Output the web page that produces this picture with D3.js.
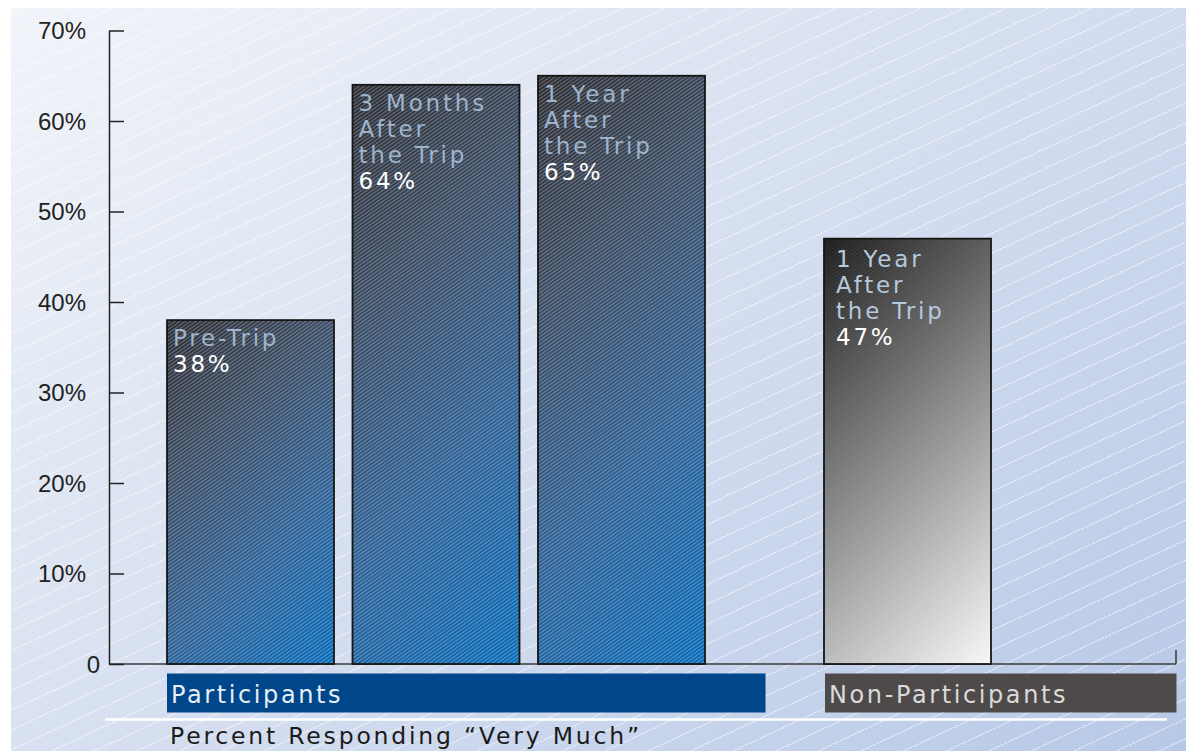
<!DOCTYPE html>
<html>
<head>
<meta charset="utf-8">
<script src="https://cdn.jsdelivr.net/npm/d3@7"></script>
<style>
  html, body { margin: 0; padding: 0; background: #ffffff; }
  svg { display: block; }
</style>
</head>
<body>
<svg id="chart" width="1186" height="751"></svg>
<script>
// ---------------- DATA ----------------
const categories = [
  ["Pre-Trip"],
  ["3 Months", "After", "the Trip"],
  ["1 Year", "After", "the Trip"],
  ["1 Year", "After", "the Trip"]
];
const groupOfBar = ["Participants", "Participants", "Participants", "Non-Participants"];
const values = [38, 64, 65, 47];
const groupNames = ["Participants", "Non-Participants"];
const yTicks = [0, 10, 20, 30, 40, 50, 60, 70];
const yTickLabels = ["0", "10%", "20%", "30%", "40%", "50%", "60%", "70%"];
const axisTitle = "Percent Responding \u201CVery Much\u201D";

// ---------------- LAYOUT ----------------
const W = 1186, H = 751;
const axisX = 109, baseY = 664, topY = 30.5;
const rightX = 1176;
const barStep = 185.5, barGap = 18.5;
const groupStart = { "Participants": 167, "Non-Participants": 824 };
const groupBoxEnd = { "Participants": 765.5, "Non-Participants": 1176.5 };
const labelFont = "'DejaVu Sans', Verdana, sans-serif";

const svg = d3.select("#chart");
const defs = svg.append("defs");

// background gradient
const bg = defs.append("linearGradient").attr("id", "bgGrad")
  .attr("gradientUnits", "userSpaceOnUse")
  .attr("x1", 11).attr("y1", 8).attr("x2", 900).attr("y2", 1100);
bg.append("stop").attr("offset", 0).attr("stop-color", "#f1f4f9");
bg.append("stop").attr("offset", 0.5).attr("stop-color", "#d3ddef");
bg.append("stop").attr("offset", 1).attr("stop-color", "#b3c5e5");

// background stripes
const stripe = defs.append("pattern").attr("id", "bgStripe")
  .attr("patternUnits", "userSpaceOnUse")
  .attr("width", 12).attr("height", 18)
  .attr("patternTransform", "rotate(-25)");
stripe.append("line").attr("x1", 0).attr("x2", 12).attr("y1", 0.5).attr("y2", 0.5)
  .attr("stroke", "#ffffff").attr("stroke-width", 1).attr("stroke-opacity", 0.7)
  .attr("stroke-dasharray", "3,1");

// bar hatch (carbon-like)
const hatch = defs.append("pattern").attr("id", "barHatch")
  .attr("patternUnits", "userSpaceOnUse")
  .attr("width", 6).attr("height", 3)
  .attr("patternTransform", "rotate(-35)");
hatch.append("rect").attr("x", 0).attr("y", 0).attr("width", 6).attr("height", 1)
  .attr("fill", "#ffffff").attr("fill-opacity", 0.28);
hatch.append("rect").attr("x", 0).attr("y", 1.5).attr("width", 6).attr("height", 1)
  .attr("fill", "#000000").attr("fill-opacity", 0.12);

const hatchLight = defs.append("pattern").attr("id", "barHatchLight")
  .attr("patternUnits", "userSpaceOnUse")
  .attr("width", 6).attr("height", 3)
  .attr("patternTransform", "rotate(-35)");
hatchLight.append("rect").attr("x", 0).attr("y", 0).attr("width", 6).attr("height", 1)
  .attr("fill", "#ffffff").attr("fill-opacity", 0.07);

svg.append("rect").attr("x", 11).attr("y", 8).attr("width", W - 11).attr("height", H - 8)
  .attr("fill", "url(#bgGrad)");
svg.append("rect").attr("x", 11).attr("y", 8).attr("width", W - 11).attr("height", H - 8)
  .attr("fill", "url(#bgStripe)");

// ---------------- SCALES ----------------
const y = d3.scaleLinear().domain([0, 70]).range([baseY, topY]);

const xByGroup = {};
groupNames.forEach(g => {
  const ids = d3.range(values.length).filter(i => groupOfBar[i] === g);
  const start = groupStart[g];
  xByGroup[g] = d3.scaleBand().domain(ids)
    .range([start, start + ids.length * barStep])
    .paddingInner(barGap / barStep).paddingOuter(barGap / barStep / 2)
    .align(0);
});
const xPos = i => xByGroup[groupOfBar[i]](i);
const bw = i => xByGroup[groupOfBar[i]].bandwidth();

const colorStops = {
  "Participants": [["0", "#303137"], ["0.3", "#3f5068"], ["0.65", "#32679e"], ["1", "#0a71c2"]],
  "Non-Participants": [["0", "#1c1c1c"], ["0.5", "#8c8c8c"], ["1", "#f7f7f7"]]
};

// per-bar diagonal gradients
values.forEach((v, i) => {
  const x0 = xPos(i), w = bw(i), y0 = y(v), h = baseY - y0;
  const s = (w + h) / 2;
  const g = defs.append("linearGradient").attr("id", "barGrad" + i)
    .attr("gradientUnits", "userSpaceOnUse")
    .attr("x1", x0).attr("y1", y0).attr("x2", x0 + s).attr("y2", y0 + s);
  colorStops[groupOfBar[i]].forEach(([o, c]) => g.append("stop").attr("offset", o).attr("stop-color", c));
});

// ---------------- BASELINE ----------------
svg.append("line").attr("x1", axisX).attr("x2", rightX).attr("y1", baseY).attr("y2", baseY)
  .attr("stroke", "#3a3a3a").attr("stroke-width", 1.5);
svg.append("line").attr("x1", rightX).attr("x2", rightX).attr("y1", baseY - 14).attr("y2", baseY)
  .attr("stroke", "#3a3a3a").attr("stroke-width", 1.5);

// ---------------- BARS ----------------
const bars = svg.append("g").selectAll("g.bar").data(values).join("g").attr("class", "bar");
bars.append("rect")
  .attr("x", (d, i) => xPos(i)).attr("y", d => y(d))
  .attr("width", (d, i) => bw(i)).attr("height", d => baseY - y(d))
  .attr("fill", (d, i) => `url(#barGrad${i})`);
bars.append("rect")
  .attr("x", (d, i) => xPos(i)).attr("y", d => y(d))
  .attr("width", (d, i) => bw(i)).attr("height", d => baseY - y(d))
  .attr("fill", (d, i) => groupOfBar[i] === "Participants" ? "url(#barHatch)" : "url(#barHatchLight)")
  .attr("stroke", "#161616").attr("stroke-width", 1.8);

// bar labels
const labelStyle = {
  "Participants": { dx: 6, dy: 26, cat: "#9db4cc" },
  "Non-Participants": { dx: 12, dy: 28, cat: "#b6c8dc" }
};
bars.each(function (d, i) {
  const st = labelStyle[groupOfBar[i]];
  const t = d3.select(this).append("text")
    .attr("font-family", labelFont).attr("font-size", 23)
    .attr("letter-spacing", 2.8);
  const lines = categories[i].concat([d + "%"]);
  lines.forEach((ln, k) => {
    t.append("tspan")
      .attr("x", xPos(i) + st.dx)
      .attr("y", y(d) + st.dy + k * 26)
      .attr("fill", k === lines.length - 1 ? "#ffffff" : st.cat)
      .text(ln);
  });
});

// ---------------- Y AXIS ----------------
const yAxis = d3.axisLeft(y).tickValues(yTicks)
  .tickFormat((d, i) => yTickLabels[i])
  .tickSize(-15).tickSizeOuter(0).tickPadding(23);
const ga = svg.append("g").attr("transform", `translate(${axisX},0)`).call(yAxis);
ga.select(".domain").attr("stroke", "#222").attr("stroke-width", 1.5);
ga.selectAll(".tick line").attr("stroke", "#222").attr("stroke-width", 1.5);
ga.selectAll(".tick text")
  .attr("font-family", "'Liberation Sans', Arial, sans-serif")
  .attr("font-size", 24).attr("fill", "#222")
  .attr("dy", "0.35em")
  .attr("x", d => d === 0 ? -9 : -23);

// ---------------- GROUP LABEL BOXES ----------------
const groupFill = { "Participants": "#00468a", "Non-Participants": "#4e4a49" };
const groupText = { "Participants": "#e6eef6", "Non-Participants": "#dadada" };
groupNames.forEach(g => {
  const x0 = groupStart[g] + (g === "Non-Participants" ? 1 : 0);
  svg.append("rect").attr("x", x0).attr("y", 673.5)
    .attr("width", groupBoxEnd[g] - x0).attr("height", 39)
    .attr("fill", groupFill[g]);
  svg.append("text").attr("x", x0 + 4).attr("y", 703)
    .attr("font-family", labelFont).attr("font-size", 24)
    .attr("letter-spacing", 2.6)
    .attr("fill", groupText[g]).text(g);
});

// separator line
svg.append("line").attr("x1", 105).attr("x2", 1167).attr("y1", 719.5).attr("y2", 719.5)
  .attr("stroke", "#ffffff").attr("stroke-width", 2.5);

// axis title
svg.append("text").attr("x", 170).attr("y", 744)
  .attr("font-family", labelFont).attr("font-size", 23.5)
  .attr("letter-spacing", 2.8).attr("fill", "#1a1a1a")
  .text(axisTitle);
</script>
</body>
</html>
